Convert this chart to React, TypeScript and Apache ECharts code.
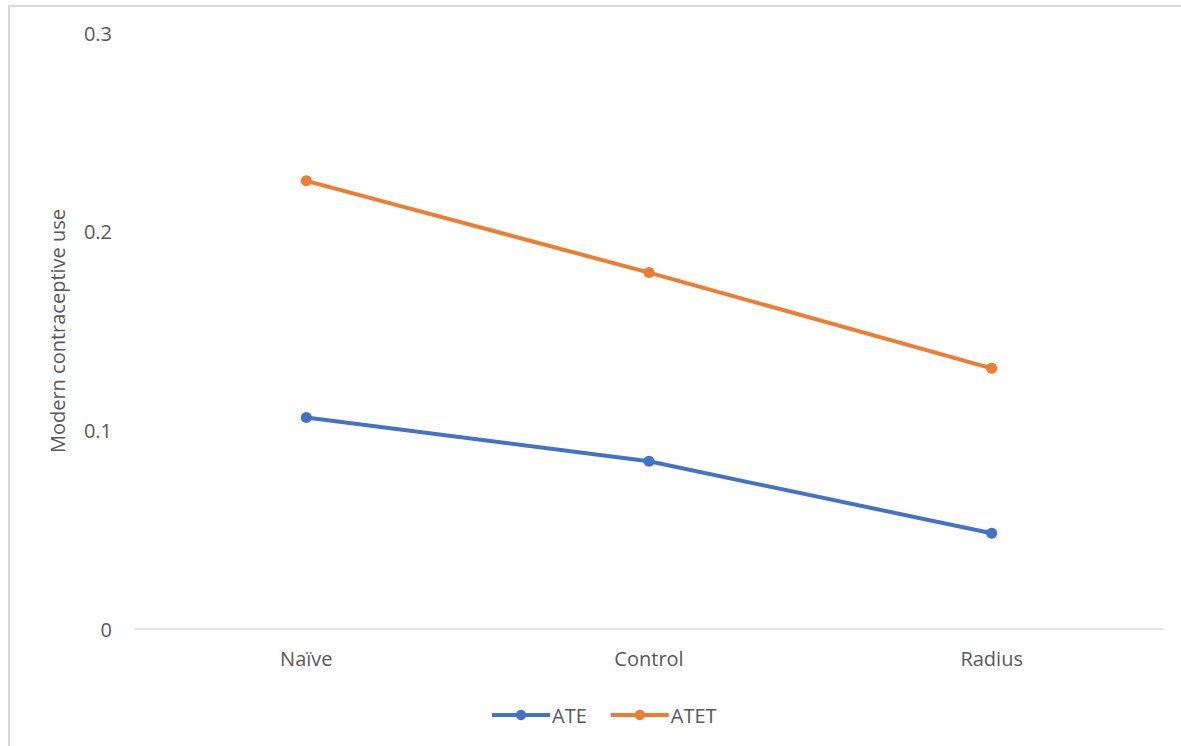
import React, { useEffect, useRef } from "react";
import * as echarts from "echarts";

const categories = ["Naïve", "Control", "Radius"];
const ateValues = [0.1065, 0.0844, 0.0482];
const atetValues = [0.2256, 0.1794, 0.1312];
const yTicks = [0, 0.1, 0.2, 0.3];

export default function App() {
  const ref = useRef<HTMLDivElement>(null);
  useEffect(() => {
    const chart = echarts.init(ref.current!, undefined, { renderer: "svg" });
    const font = "'Open Sans', 'Liberation Sans', sans-serif";
    const fs = 20;
    chart.setOption({
      animation: false,
      backgroundColor: "#ffffff",
      textStyle: { fontFamily: font },
      graphic: [
        {
          type: "rect",
          shape: { x: 9, y: 6, width: 1200, height: 800 },
          style: { fill: "none", stroke: "#d9d9d9", lineWidth: 2 },
          silent: true,
        },
      ],
      grid: { left: 135, right: 18, top: 33, bottom: 117 },
      xAxis: {
        type: "category",
        data: categories,
        boundaryGap: true,
        axisLine: { show: true, lineStyle: { color: "#d9d9d9", width: 1.5 } },
        axisTick: { show: false },
        axisLabel: { color: "#595959", fontSize: fs, margin: 19, fontFamily: font },
      },
      yAxis: {
        type: "value",
        min: yTicks[0],
        max: yTicks[yTicks.length - 1],
        interval: 0.1,
        name: "Modern contraceptive use",
        nameLocation: "middle",
        nameGap: 68,
        nameRotate: 90,
        nameTextStyle: { color: "#595959", fontSize: fs, fontFamily: font },
        axisLine: { show: false },
        axisTick: { show: false },
        splitLine: { show: false },
        axisLabel: {
          color: "#595959",
          fontSize: fs,
          margin: 23,
          fontFamily: font,
          formatter: (v: number) => (v === 0 ? "0" : String(Math.round(v * 10) / 10)),
        },
      },
      legend: {
        bottom: 16,
        left: 485,
        itemWidth: 58,
        itemHeight: 13,
        itemGap: 22,
        lineStyle: { width: 4 },
        textStyle: { color: "#595959", fontSize: fs, fontFamily: font, padding: [0, 0, 0, -3] },
        data: ["ATE", "ATET"],
      },
      series: [
        {
          name: "ATE",
          type: "line",
          data: ateValues,
          symbol: "circle",
          symbolSize: 11,
          lineStyle: { color: "#4472C4", width: 4 },
          itemStyle: { color: "#4472C4" },
        },
        {
          name: "ATET",
          type: "line",
          data: atetValues,
          symbol: "circle",
          symbolSize: 11,
          lineStyle: { color: "#ED7D31", width: 4 },
          itemStyle: { color: "#ED7D31" },
        },
      ],
    });
    return () => chart.dispose();
  }, []);
  return (
    <div
      ref={ref}
      style={{ position: "absolute", left: 0, top: 0, width: 1181, height: 746 }}
    />
  );
}
